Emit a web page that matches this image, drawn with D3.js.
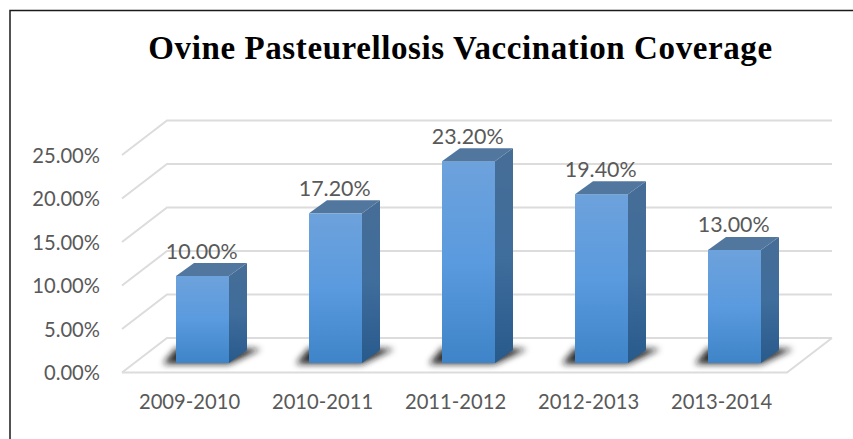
<!DOCTYPE html>
<html>
<head>
<meta charset="utf-8">
<script src="https://cdn.jsdelivr.net/npm/d3@7"></script>
<style>
  html, body { margin: 0; padding: 0; background: #fff; overflow: hidden; }
  text { font-family: Lato, "Open Sans", sans-serif; fill: #595959; }
  .title { font-family: "Liberation Serif", serif; font-weight: bold; fill: #000; letter-spacing: 0.6px; }
  .axis path, .axis line { display: none; }
  .axis text { font-size: 20.2px; font-family: Lato, "Open Sans", sans-serif; fill: #595959; }
</style>
</head>
<body>
<svg id="chart" width="853" height="439"></svg>
<script>
const title = "Ovine Pasteurellosis Vaccination Coverage";
const categories = ["2009-2010", "2010-2011", "2011-2012", "2012-2013", "2013-2014"];
const values = [10.0, 17.2, 23.2, 19.4, 13.0];
const yTicks = [0, 5, 10, 15, 20, 25];

const width = 853, height = 439;
const floor = { left: 122, right: 787, front: 372.5 };
const wall = { dx: 45, dy: -34.5 };     // oblique offset of the back wall
const depth = { dx: 18, dy: -13 };      // oblique offset of a bar
const inset = { dx: 14, dy: -9.5 };     // bar front relative to the floor front edge

const svg = d3.select("#chart");
const defs = svg.append("defs");

function vGrad(id, stops) {
  const g = defs.append("linearGradient").attr("id", id)
    .attr("x1", 0).attr("y1", 0).attr("x2", 0).attr("y2", 1);
  stops.forEach((c, i) => g.append("stop").attr("offset", i / (stops.length - 1)).attr("stop-color", c));
}
vGrad("front", ["#6da2dc", "#5a9ade", "#3f84c8"]);
vGrad("side", ["#466d96", "#3f6d9c", "#285a8c"]);
defs.append("filter").attr("id", "blur")
  .attr("x", "-30%").attr("y", "-80%").attr("width", "160%").attr("height", "260%")
  .append("feGaussianBlur").attr("stdDeviation", 3.4);

const x = d3.scaleBand().domain(categories).range([floor.left, floor.right]);
const y = d3.scaleLinear().domain([0, 25]).range([floor.front, floor.front - 217.5]);
const barWidth = 53;

const poly = pts => pts.map(p => p.join(",")).join(" ");

// frame
svg.append("path")
  .attr("d", d3.line()([[10, height], [10, 10.5], [width, 10.5]]))
  .attr("fill", "none").attr("stroke", "#1a1a1a").attr("stroke-width", 1.5);

// title
svg.append("text").attr("class", "title")
  .attr("x", 460.5).attr("y", 59)
  .attr("text-anchor", "middle")
  .attr("font-size", 33)
  .text(title);

// floor and walls
const grid = svg.append("g").attr("fill", "none").attr("stroke", "#dcdcdc").attr("stroke-width", 2);
yTicks.forEach(t => {
  grid.append("path").attr("d", d3.line()([
    [floor.left, y(t)],
    [floor.left + wall.dx, y(t) + wall.dy],
    [floor.right + wall.dx, y(t) + wall.dy]
  ]));
});
grid.append("path").attr("d", d3.line()([
  [floor.left, y(0)],
  [floor.right, y(0)],
  [floor.right + wall.dx, y(0) + wall.dy]
]));

// bars
const bars = svg.selectAll(".bar").data(values).enter().append("g").attr("class", "bar");
const fx = (d, i) => x(categories[i]) + (x.bandwidth() - barWidth) / 2 + inset.dx;

bars.append("polygon")
  .attr("fill", "#1a1a1a").attr("fill-opacity", 0.9).attr("filter", "url(#blur)")
  .attr("points", (d, i) => {
    const l = fx(d, i), b = y(0) + inset.dy;
    return poly([
      [l - 13, b + 1],
      [l + barWidth, b + 1],
      [l + barWidth + 32, b + depth.dy - 1],
      [l + barWidth, b + depth.dy - 2],
      [l, b + depth.dy - 2]
    ]);
  });

bars.append("rect")
  .attr("x", fx)
  .attr("y", d => y(d) + inset.dy)
  .attr("width", barWidth)
  .attr("height", d => y(0) - y(d))
  .attr("fill", "url(#front)");

bars.append("polygon")
  .attr("fill", "url(#side)")
  .attr("points", (d, i) => {
    const r = fx(d, i) + barWidth, t = y(d) + inset.dy, b = y(0) + inset.dy;
    return poly([[r, t], [r + depth.dx, t + depth.dy], [r + depth.dx, b + depth.dy], [r, b]]);
  });

bars.append("polygon")
  .attr("fill", "#52779f")
  .attr("points", (d, i) => {
    const l = fx(d, i), t = y(d) + inset.dy;
    return poly([[l, t], [l + depth.dx, t + depth.dy], [l + barWidth + depth.dx, t + depth.dy], [l + barWidth, t]]);
  });

// value labels
bars.append("text")
  .attr("x", (d, i) => fx(d, i) + barWidth / 2 - 0.8)
  .attr("y", d => y(d) + inset.dy + depth.dy - 4.5)
  .attr("text-anchor", "middle")
  .attr("font-size", 21.4)
  .text(d => d.toFixed(2) + "%");

// axes
svg.append("g").attr("class", "axis")
  .attr("transform", `translate(${floor.left - 22},1)`)
  .call(d3.axisLeft(y).tickValues(yTicks).tickSize(0).tickPadding(0).tickFormat(d => d.toFixed(2) + "%"));

svg.append("g").attr("class", "axis")
  .attr("transform", `translate(1,${floor.front + 16})`)
  .call(d3.axisBottom(x).tickSize(0).tickPadding(6));
</script>
</body>
</html>
